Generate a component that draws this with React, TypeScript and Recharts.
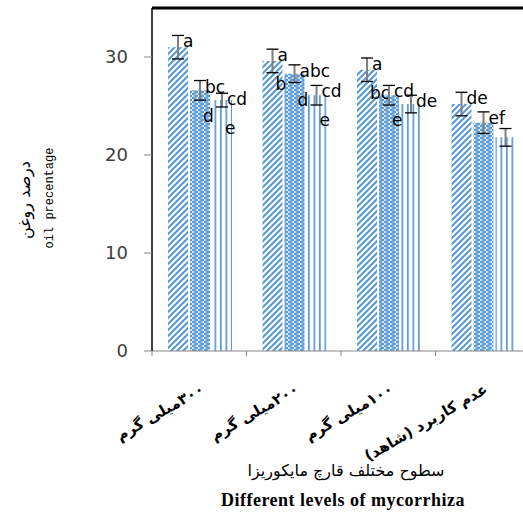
import { BarChart, Bar, XAxis, YAxis, LabelList, ReferenceLine, Label } from 'recharts';

const RLM = '\u200F';
const categories = [
  RLM + '۳۰۰میلی گرم',
  RLM + '۲۰۰میلی گرم',
  RLM + '۱۰۰میلی گرم',
  RLM + 'عدم کاربرد (شاهد)' + RLM,
];

const seriesA = [31.0, 29.6, 28.7, 25.2];
const seriesB = [26.6, 28.3, 26.1, 23.3];
const seriesC = [25.6, 26.1, 25.2, 21.8];

const errA = [1.2, 1.2, 1.2, 1.2];
const errB = [1.0, 0.9, 1.0, 1.1];
const errC = [0.7, 1.0, 0.9, 0.9];

const mainA = ['a', 'a', 'a', 'de'];
const subA = ['', 'b', 'bc', ''];
const mainB = ['bc', 'abc', 'cd', 'ef'];
const subB = ['d', 'd', 'e', ''];
const mainC = ['cd', 'cd', 'de', ''];
const subC = ['e', 'e', '', ''];

const yTicks = [0, 10, 20, 30];

const data = categories.map((name, i) => ({ name, a: seriesA[i], b: seriesB[i], c: seriesC[i] }));

const W = 540;
const H = 514;
const MARGIN = { top: 8, right: 10, left: 82, bottom: 0 };
const Y_AXIS_W = 70;
const BAND = (W - MARGIN.left - Y_AXIS_W - MARGIN.right) / categories.length;

const BLUE = '#5b9bd5';
const LETTER_FONT = '"DejaVu Sans", sans-serif';

// error bar (grey stem, black caps) + significance letters, placed from the bar geometry
function marks(values: number[], errs: number[], mains: string[], subs: string[]) {
  return (props: any) => {
    const vb = props.viewBox && props.viewBox.width != null ? props.viewBox : props;
    const { x, y, width, height } = vb;
    const i = props.index;
    if (x == null || i == null) return null;
    const ppu = height / values[i];
    const cx = x + width / 2;
    const top = y - errs[i] * ppu;
    const bot = y + errs[i] * ppu;
    return (
      <g>
        <line x1={cx} x2={cx} y1={top} y2={bot} stroke="#7f7f7f" strokeWidth={2} />
        <line x1={cx - 6} x2={cx + 6} y1={top} y2={top} stroke="#000" strokeWidth={1.3} />
        <line x1={cx - 6} x2={cx + 6} y1={bot} y2={bot} stroke="#000" strokeWidth={1.3} />
        {mains[i] && (
          <text x={cx + 5} y={top + 12} fontSize={17} fontFamily={LETTER_FONT} fill="#000">
            {mains[i]}
          </text>
        )}
        {subs[i] && (
          <text x={cx + 3} y={top + 41} fontSize={17} fontFamily={LETTER_FONT} fill="#000">
            {subs[i]}
          </text>
        )}
      </g>
    );
  };
}

function CategoryTick(props: any) {
  const { x, y, payload, index } = props;
  const left = x - BAND / 2;
  return (
    <g>
      <line x1={left} x2={left} y1={y} y2={y + 5} stroke="#868686" />
      {index === categories.length - 1 && (
        <line x1={left + BAND} x2={left + BAND} y1={y} y2={y + 5} stroke="#868686" />
      )}
      <text
        x={x + 6}
        y={y + 41}
        transform={`rotate(-30, ${x + 6}, ${y + 41})`}
        textAnchor="end"
        fontSize={15}
        fontWeight="bold"
        fontFamily={LETTER_FONT}
        fill="#000"
      >
        {payload.value}
      </text>
    </g>
  );
}

const xTitle = () => (
  <g>
    <text x={346} y={476} textAnchor="middle" fontSize={16} fontFamily={LETTER_FONT} fill="#000">
      سطوح مختلف قارچ مایکوریزا
    </text>
    <text
      x={343}
      y={506}
      textAnchor="middle"
      fontSize={18}
      fontWeight="bold"
      letterSpacing={0.5}
      fontFamily='"Liberation Serif", serif'
      fill="#000"
    >
      Different levels of mycorrhiza
    </text>
  </g>
);

const yTitle = () => (
  <g>
    <text
      x={24}
      y={200}
      transform="rotate(-90, 24, 200)"
      textAnchor="middle"
      dominantBaseline="central"
      fontSize={16}
      fontFamily={LETTER_FONT}
      fill="#000"
    >
      درصد روغن
    </text>
    <text
      x={50}
      y={198}
      transform="rotate(-90, 50, 198)"
      textAnchor="middle"
      dominantBaseline="central"
      fontSize={12}
      fontFamily='"Liberation Mono", monospace'
      fill="#000"
    >
      oil precentage
    </text>
  </g>
);

export default function App() {
  return (
    <div
      style={{
        position: 'fixed',
        left: 0,
        top: 0,
        width: 523,
        height: 514,
        overflow: 'hidden',
        background: '#fff',
      }}
    >
      <BarChart width={W} height={H} data={data} margin={MARGIN} barCategoryGap={16} barGap={2}>
        <defs>
          <pattern id="hatchA" patternUnits="userSpaceOnUse" width={6} height={6}>
            <path d="M-1,1 L1,-1 M0,6 L6,0 M5,7 L7,5" stroke={BLUE} strokeWidth={2.2} />
          </pattern>
          <pattern id="hatchB" patternUnits="userSpaceOnUse" width={6} height={4}>
            <path d="M6,0 L0,2 L6,4" stroke={BLUE} strokeWidth={1.8} fill="none" />
          </pattern>
          <pattern id="hatchC" patternUnits="userSpaceOnUse" width={5.5} height={10}>
            <rect x={0} y={0} width={1.7} height={10} fill={BLUE} />
          </pattern>
        </defs>
        <XAxis
          dataKey="name"
          height={163}
          axisLine={{ stroke: '#868686' }}
          tickLine={false}
          tickSize={0}
          tickMargin={0}
          interval={0}
          tick={<CategoryTick />}
        >
          <Label content={xTitle} />
        </XAxis>
        <YAxis
          width={Y_AXIS_W}
          domain={[0, 35]}
          ticks={yTicks}
          allowDataOverflow
          axisLine={{ stroke: '#000', strokeWidth: 1.5 }}
          tickLine={{ stroke: '#868686' }}
          tickSize={8}
          tickMargin={16}
          tick={{ fill: '#404040', fontSize: 18, fontFamily: LETTER_FONT }}
        >
          <Label content={yTitle} />
        </YAxis>
        <ReferenceLine y={35} stroke="#000" strokeWidth={3} />
        <Bar dataKey="a" fill="url(#hatchA)" isAnimationActive={false}>
          <LabelList dataKey="a" content={marks(seriesA, errA, mainA, subA)} />
        </Bar>
        <Bar dataKey="b" fill="url(#hatchB)" isAnimationActive={false}>
          <LabelList dataKey="b" content={marks(seriesB, errB, mainB, subB)} />
        </Bar>
        <Bar dataKey="c" fill="url(#hatchC)" isAnimationActive={false}>
          <LabelList dataKey="c" content={marks(seriesC, errC, mainC, subC)} />
        </Bar>
      </BarChart>
    </div>
  );
}
